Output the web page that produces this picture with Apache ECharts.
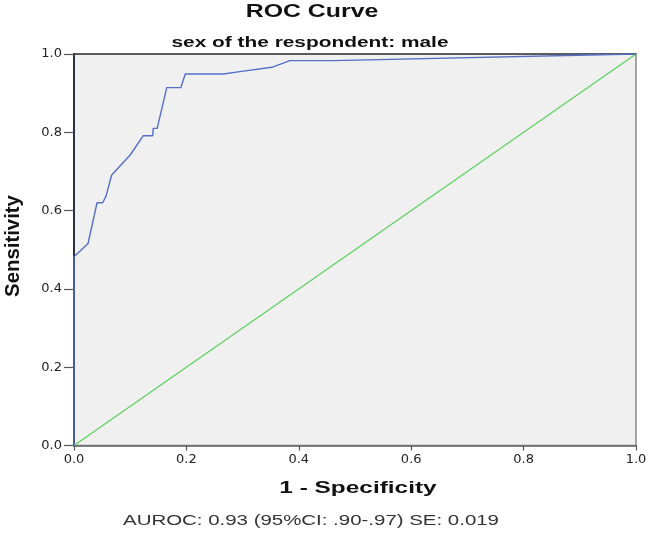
<!DOCTYPE html>
<html><head><meta charset="utf-8">
<script src="https://cdn.jsdelivr.net/npm/echarts@6/dist/echarts.min.js"></script>
<style>html,body{margin:0;padding:0;background:#fff}#c{width:650px;height:534px}</style>
</head><body><div id="c"></div>
<script>
const fpr = [0, 0, 0.025, 0.041, 0.051, 0.057, 0.067, 0.100, 0.123, 0.140, 0.141, 0.148, 0.165, 0.190, 0.198, 0.266, 0.295, 0.352, 0.384, 0.46, 1.0];
const tpr = [0, 0.482, 0.516, 0.620, 0.620, 0.637, 0.691, 0.742, 0.791, 0.791, 0.810, 0.810, 0.914, 0.914, 0.949, 0.949, 0.955, 0.966, 0.983, 0.983, 1.0];
const refX = [0, 1];
const refY = [0, 1];
const tickLabels = ['0.0','0.2','0.4','0.6','0.8','1.0'];
const titleText = 'ROC Curve';
const subtitleText = 'sex of the respondent: male';
const xName = '1 - Specificity';
const yName = 'Sensitivity';
const footText = 'AUROC: 0.93 (95%CI: .90-.97) SE: 0.019';

const chart = echarts.init(document.getElementById('c'));
const F = '"Liberation Sans", Arial, sans-serif';
const S = 1.42;
function txt(text, x, y, size, weight, color, sx, sy, rot) {
  return {type: 'text', x: x, y: y, scaleX: sx, scaleY: sy, rotation: rot || 0, z: 100,
    style: {text: text, fontFamily: F, fontSize: size, fontWeight: weight, fill: color,
      align: 'center', verticalAlign: 'middle', textAlign: 'center', textVerticalAlign: 'middle'}};
}
chart.setOption({
  animation: false,
  backgroundColor: '#fff',
  graphic: [
    txt(titleText, 312, 12.5, 17.5, 'bold', '#111', S, 1),
    txt(subtitleText, 310, 42.5, 14.7, 'bold', '#111', S, 1),
    txt(xName, 358, 488, 17.2, 'bold', '#111', S, 1),
    txt(footText, 311, 521, 14.4, 'normal', '#333', S, 1),
    txt(yName, 14, 246, 18.5, 'bold', '#111', 1.1, 1.05, Math.PI / 2)
  ],
  grid: {left: 74, right: 14, top: 54, bottom: 88.5, show: true, backgroundColor: '#f0f0f0', borderColor: '#888', borderWidth: 1.5},
  xAxis: [{
    type: 'value', min: 0, max: 1, interval: 0.2,
    axisLine: {show: true, lineStyle: {color: '#666', width: 1.5}},
    axisTick: {show: true, length: 5, lineStyle: {color: '#555', width: 1.2}},
    axisLabel: {fontFamily: 'DejaVu Sans', fontSize: 13, color: '#222', margin: 8, formatter: v => tickLabels[Math.round(v*5)]},
    splitLine: {show: false}
  }, {
    type: 'value', min: 0, max: 1, position: 'top',
    axisLine: {show: true, lineStyle: {color: '#444', width: 1.5}},
    axisTick: {show: false}, axisLabel: {show: false}, splitLine: {show: false}
  }],
  yAxis: {
    type: 'value', min: 0, max: 1, interval: 0.2,
    axisLine: {show: true, lineStyle: {color: '#2a2f45', width: 2}},
    axisTick: {show: true, length: 10, lineStyle: {color: '#555', width: 1.2}},
    axisLabel: {fontFamily: 'DejaVu Sans', fontSize: 13, color: '#222', margin: 12, formatter: v => tickLabels[Math.round(v*5)]},
    splitLine: {show: false}
  },
  series: [
    {type: 'line', data: refX.map((x,i)=>[x, refY[i]]), showSymbol: false, lineStyle: {color: '#5fd060', width: 1.3}, z: 2},
    {type: 'line', data: fpr.map((x,i)=>[x, tpr[i]]), showSymbol: false, lineStyle: {color: '#5470c6', width: 1.4}, z: 3}
  ]
});
</script></body></html>
